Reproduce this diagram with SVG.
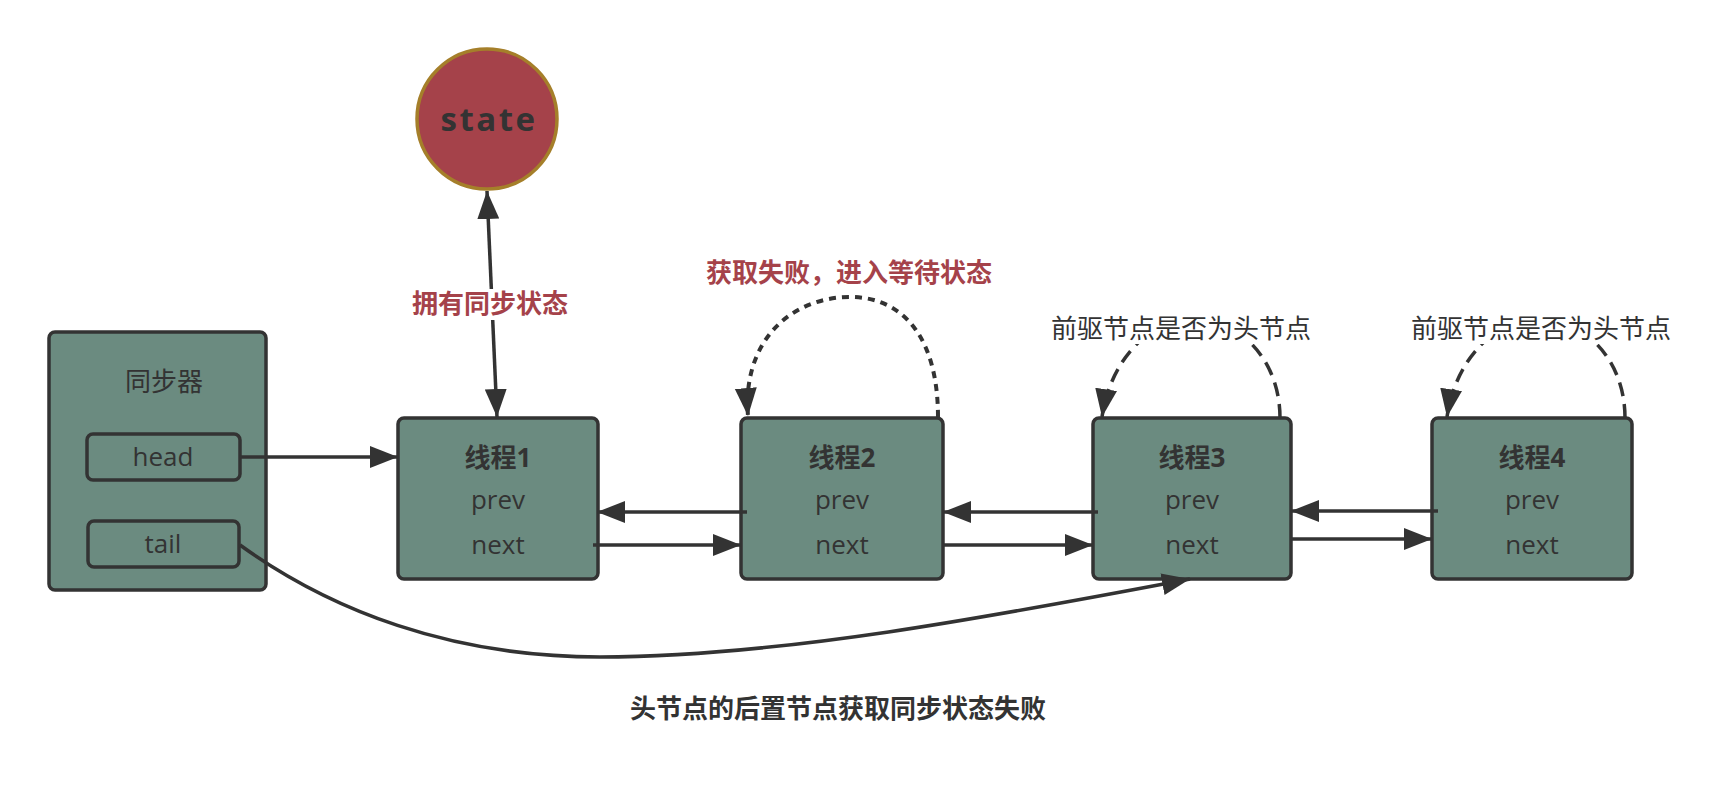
<svg xmlns="http://www.w3.org/2000/svg" width="1710" height="796" viewBox="0 0 1710 796">
<style>
.box{fill:#6b8b80;stroke:#333;stroke-width:3.5}
.t{font-family:"Open Sans","Noto Sans CJK SC",sans-serif;font-size:26px;fill:#333;text-anchor:middle}
.b{font-weight:bold}
.red{fill:#a5424a}
.ln{fill:none;stroke:#333;stroke-width:3.5}
.dot{stroke-dasharray:7 6;stroke-width:4}
.dash{stroke-dasharray:14 8}
</style>
<defs>
<marker id="ah" markerUnits="userSpaceOnUse" markerWidth="30" markerHeight="24" refX="28" refY="11" orient="auto">
<path d="M0,0 L28,11 L0,22 z" fill="#333"/>
</marker>
<marker id="ahs" markerUnits="userSpaceOnUse" markerWidth="30" markerHeight="24" refX="28" refY="11" orient="auto-start-reverse">
<path d="M0,0 L28,11 L0,22 z" fill="#333"/>
</marker>
</defs>
<rect width="1710" height="796" fill="#fff"/>

<g id="state">
<circle cx="487" cy="119" r="70" fill="#a5424a" stroke="#a57f2a" stroke-width="3.5"/>
<text class="t b" x="489" y="131" style="font-size:33px;letter-spacing:2.5px">state</text>
</g>

<g id="sync">
<rect class="box" x="49" y="332" width="217" height="258" rx="6"/>
<text class="t" x="164" y="391">同步器</text>
</g>
<g id="head">
<rect class="box" x="87" y="434" width="153" height="46" rx="6"/>
<text class="t" x="163" y="466">head</text>
</g>
<g id="tail">
<rect class="box" x="88" y="521" width="151" height="46" rx="6"/>
<text class="t" x="163" y="553">tail</text>
</g>

<g id="thread1">
<rect class="box" x="398" y="418" width="200" height="161" rx="6"/>
<text class="t b" x="498" y="467">线程1</text>
<text class="t" x="498" y="509">prev</text>
<text class="t" x="498" y="554">next</text>
</g>
<g id="thread2">
<rect class="box" x="741" y="418" width="202" height="161" rx="6"/>
<text class="t b" x="842" y="467">线程2</text>
<text class="t" x="842" y="509">prev</text>
<text class="t" x="842" y="554">next</text>
</g>
<g id="thread3">
<rect class="box" x="1093" y="418" width="198" height="161" rx="6"/>
<text class="t b" x="1192" y="467">线程3</text>
<text class="t" x="1192" y="509">prev</text>
<text class="t" x="1192" y="554">next</text>
</g>
<g id="thread4">
<rect class="box" x="1432" y="418" width="200" height="161" rx="6"/>
<text class="t b" x="1532" y="467">线程4</text>
<text class="t" x="1532" y="509">prev</text>
<text class="t" x="1532" y="554">next</text>
</g>

<g id="connectors">
<path class="ln" d="M497,417 L487,191" marker-start="url(#ahs)" marker-end="url(#ah)"/>
<path class="ln" d="M240,457 L398,457" marker-end="url(#ah)"/>
<path class="ln" d="M593,545 L741,545" marker-end="url(#ah)"/>
<path class="ln" d="M747,512 L597,512" marker-end="url(#ah)"/>
<path class="ln" d="M943,545 L1093,545" marker-end="url(#ah)"/>
<path class="ln" d="M1098,512 L943,512" marker-end="url(#ah)"/>
<path class="ln" d="M1291,539 L1432,539" marker-end="url(#ah)"/>
<path class="ln" d="M1438,511 L1291,511" marker-end="url(#ah)"/>
<path class="ln" d="M240,545 C330,610 450,657 600,657 C780,657 1000,615 1190,579" marker-end="url(#ah)"/>
<path class="ln dot" d="M938,417 C938,340 905,297 850,297 C792,297 742,340 748,416" marker-end="url(#ah)"/>
<path class="ln dash" d="M1280,418 C1280,360 1240,318 1190,318 C1160,318 1112,350 1102,417" marker-end="url(#ah)"/>
<path class="ln dash" d="M1625,418 C1625,360 1585,318 1535,318 C1505,318 1457,350 1447,417" marker-end="url(#ah)"/>
</g>

<g id="labels">
<rect x="409" y="289" width="162" height="31" fill="#fff"/>
<text class="t b red" x="490" y="313">拥有同步状态</text>
<text class="t b red" x="849" y="282">获取失败，进入等待状态</text>
<rect x="1046" y="312" width="270" height="32" fill="#fff"/>
<text class="t" x="1181" y="338">前驱节点是否为头节点</text>
<rect x="1406" y="312" width="270" height="32" fill="#fff"/>
<text class="t" x="1541" y="338">前驱节点是否为头节点</text>
<text class="t b" x="838" y="718">头节点的后置节点获取同步状态失败</text>
</g>
</svg>
